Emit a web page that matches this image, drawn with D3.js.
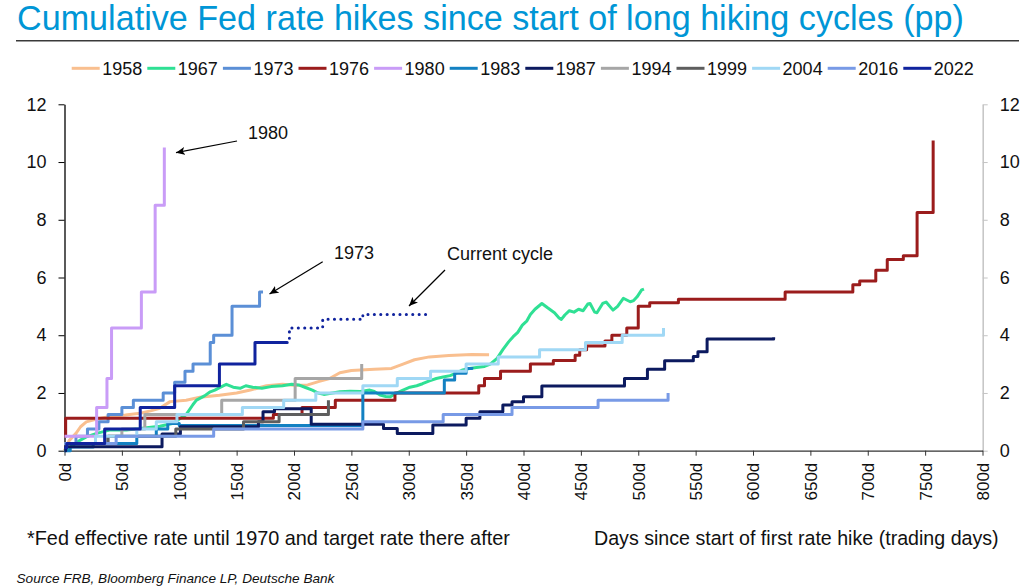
<!DOCTYPE html>
<html><head><meta charset="utf-8">
<script src="https://cdn.jsdelivr.net/npm/d3@7"></script>
<style>
body{margin:0;background:#fff;}
svg{display:block;font-family:"Liberation Sans",Arial,sans-serif;}
</style>
</head><body>
<svg id="chart" width="1034" height="588"></svg>
<script>
// ---------------- DATA ----------------
const years = ["1958","1967","1973","1976","1980","1983","1987","1994","1999","2004","2016","2022"];
const xTicks = [0,50,100,150,200,250,300,350,400,450,500,550,600,650,700,750,800];
const yTicks = [0,2,4,6,8,10,12];

const s1958 = [[0,0],[4,0.35],[10,0.6],[14,0.83],[19,1.0],[28,1.1],[42,1.2],[53,1.24],[66,1.3],[75,1.38],[83,1.47],[92,1.7],[106,1.75],[118,1.85],[135,1.92],[150,2.0],[162,2.1],[176,2.25],[190,2.3],[200,2.27],[212,2.28],[222,2.4],[231,2.5],[240,2.7],[250,2.78],[270,2.82],[285,2.85],[295,3.0],[305,3.15],[318,3.25],[335,3.3],[355,3.33],[370,3.32]];
const s1967 = [[0,0],[4,0.1],[8,0.2],[13,0.35],[19,0.48],[28,0.6],[40,0.72],[54,0.72],[66,0.77],[83,0.85],[95,0.95],[100,1.1],[106,1.25],[112,1.6],[115,1.75],[122,1.9],[127,2.04],[131,2.1],[136,2.2],[141,2.3],[147,2.2],[153,2.16],[158,2.25],[164,2.2],[172,2.16],[180,2.22],[190,2.25],[198,2.3],[204,2.28],[210,2.19],[216,2.1],[221,2.0],[226,1.95],[231,1.98],[240,2.04],[249,2.06],[258,2.05],[266,2.1],[270,2.05],[275,1.93],[280,1.88],[284,1.87],[289,1.99],[295,2.1],[301,2.2],[307,2.25],[312,2.32],[318,2.42],[324,2.5],[330,2.55],[336,2.6],[342,2.7],[347,2.8],[353,2.85],[359,2.88],[366,2.92],[371,3.0],[377,3.2],[382,3.5],[387,3.77],[391,3.95],[395,4.1],[399,4.35],[403,4.5],[406,4.72],[410,4.9],[416,5.1],[421,4.95],[427,4.78],[431,4.6],[433,4.55],[436,4.7],[440,4.85],[444,4.8],[448,4.9],[452,4.85],[456,5.08],[458,5.1],[462,4.8],[464,4.78],[469,5.1],[472,5.15],[478,4.87],[482,5.0],[487,5.28],[493,5.16],[496,5.2],[499,5.33],[503,5.57],[505,5.6]];
const s1973 = [[0,0.25],[10,0.5],[20,0.75],[30,1.0],[38,1.25],[50,1.5],[60,1.75],[86,2.0],[96,2.375],[105,2.75],[112,3.0],[127,3.75],[130,4.0],[146,5.0],[170,5.5],[173,5.5]];
const s1976 = [[0,0.5],[1,1.125],[182,1.25],[207,1.5],[236,1.75],[288,2.0],[361,2.25],[366,2.5],[380,2.75],[406,3.0],[426,3.125],[445,3.31],[449,3.5],[455,3.625],[471,3.8],[477,4.0],[490,4.25],[500,5.0],[510,5.125],[535,5.25],[628,5.5],[687,5.75],[693,5.875],[707,6.25],[717,6.625],[731,6.75],[743,8.25],[757,10.75]];
const s1980 = [[0,0.5],[28,1.5],[37,2.5],[41,4.25],[67,5.5],[79,8.5],[87,10.5]];
const s1983 = [[0,0],[5,0.125],[25,0.25],[63,0.5],[80,0.75],[90,0.94],[100,0.87],[260,2.0],[331,2.45],[340,2.68],[350,2.85],[355,2.9]];
const s1987 = [[0,0],[1,0.14],[85,0.58],[101,0.83],[169,1.0],[173,1.35],[183,1.45],[215,0.92],[278,0.77],[290,0.6],[321,0.89],[350,1.12],[362,1.35],[382,1.58],[390,1.7],[400,1.87],[416,2.24],[488,2.5],[508,2.82],[523,3.12],[548,3.26],[552,3.43],[560,3.87],[616,3.87],[618,3.93]];
const s1994 = [[0,0.25],[37,0.5],[50,0.75],[70,1.25],[137,1.75],[201,2.5],[259,3.0]];
const s1999 = [[0,0.25],[38,0.5],[97,0.75],[156,1.0],[187,1.25],[230,1.75]];
const s2004 = [[0,0.25],[27,0.5],[63,0.75],[80,1.0],[98,1.25],[155,1.5],[191,1.75],[219,2.0],[260,2.25],[290,2.5],[319,2.75],[350,3.0],[378,3.25],[414,3.5],[454,3.75],[486,4.0],[522,4.25]];
const s2016 = [[0,0.25],[45,0.5],[130,0.75],[260,1.0],[330,1.25],[390,1.5],[465,1.75],[526,2.0]];
const s2022 = [[0,0.1],[2,0.25],[35,0.75],[66,1.5],[96,2.25],[135,3.0],[166,3.75],[194,3.75]];
const s2022proj = [[194,3.75],[196,4.25],[225,4.55],[260,4.72],[317,4.75]];

const seriesList = [s1958,s1967,s1973,s1976,s1980,s1983,s1987,s1994,s1999,s2004,s2016,s2022];
const smoothYears = ["1958","1967"];

// ---------------- STYLE ----------------
const colors = {
  "1958":"#f9bf8f","1967":"#2fe094","1973":"#5b8fd6","1976":"#9b1c1c","1980":"#c99cf7",
  "1983":"#1381c2","1987":"#0c1a5f","1994":"#a6a6a6","1999":"#5e5e5e","2004":"#a0d8f5",
  "2016":"#789ae6","2022":"#10239e"
};

const svg = d3.select("#chart");
const x = d3.scaleLinear().domain([0,800]).range([64.5,982.5]);
const y = d3.scaleLinear().domain([0,12]).range([450.7,104.3]);

function fitText(sel, target){
  const w = sel.node().getComputedTextLength();
  const fs = parseFloat(sel.attr("font-size"));
  sel.attr("font-size", (fs*target/w).toFixed(2));
}

// title
const title = svg.append("text").attr("x",17).attr("y",30).attr("font-size",25)
  .attr("fill","#0096d6").text("Cumulative Fed rate hikes since start of long hiking cycles (pp)");
fitText(title, 947);
svg.append("line").attr("x1",16).attr("x2",1019).attr("y1",40.7).attr("y2",40.7)
  .attr("stroke","#3a3a3a").attr("stroke-width",1.6);

// legend
years.forEach((yr,i)=>{
  const x0 = 71.7 + i*75.6;
  svg.append("line").attr("x1",x0).attr("x2",x0+28).attr("y1",68.3).attr("y2",68.3)
    .attr("stroke",colors[yr]).attr("stroke-width",3);
  svg.append("text").attr("x",x0+30.5).attr("y",74.5).attr("font-size",18).attr("fill","#111").text(yr);
});

// axes
const gl = svg.append("g").attr("transform","translate(64.5,0)")
  .call(d3.axisLeft(y).tickValues(yTicks).tickSize(6).tickSizeOuter(0).tickPadding(12));
gl.select(".domain").attr("stroke","#000").attr("stroke-width",1.3);
gl.selectAll(".tick line").attr("stroke","#000");
gl.selectAll("text").attr("font-size",18).attr("fill","#111").attr("font-family","Liberation Sans, Arial, sans-serif");

const gr = svg.append("g").attr("transform","translate(982.7,0)")
  .call(d3.axisRight(y).tickValues(yTicks).tickSize(5).tickSizeOuter(0).tickPadding(12));
gr.select(".domain").attr("stroke","#c4c4c4").attr("stroke-width",1.5);
gr.selectAll(".tick line").attr("stroke","#c4c4c4");
gr.selectAll("text").attr("font-size",18).attr("fill","#111").attr("font-family","Liberation Sans, Arial, sans-serif");

const gb = svg.append("g").attr("transform","translate(0,450.7)")
  .call(d3.axisBottom(x).tickValues(xTicks).tickSize(5).tickSizeOuter(0).tickFormat(d=>d+"d"));
gb.select(".domain").attr("stroke","#333").attr("stroke-width",1.3);
gb.selectAll(".tick line").attr("stroke","#333");
gb.selectAll("text").attr("font-size",17).attr("fill","#111").attr("font-family","Liberation Sans, Arial, sans-serif")
  .attr("transform","rotate(-90)").attr("text-anchor","end").attr("x",-12).attr("y",0).attr("dy","0.35em");

// lines
const plot = svg.append("g");
years.forEach((yr,i)=>{
  const smooth = smoothYears.includes(yr);
  const line = d3.line().x(d=>x(d[0])).y(d=>y(d[1]))
    .curve(smooth ? d3.curveLinear : d3.curveStepAfter);
  plot.append("path").datum(seriesList[i]).attr("d",line)
    .attr("fill","none").attr("stroke",colors[yr]).attr("stroke-width",3)
    .attr("stroke-linejoin","round");
});
const projLine = d3.line().x(d=>x(d[0])).y(d=>y(d[1])).curve(d3.curveStepAfter);
plot.append("path").datum(s2022proj).attr("d",projLine)
  .attr("fill","none").attr("stroke",colors["2022"]).attr("stroke-width",3)
  .attr("stroke-linecap","round").attr("stroke-dasharray","0.1,6.3");

// annotations
const defs = svg.append("defs");
defs.append("marker").attr("id","arr").attr("viewBox","0 0 10 10").attr("refX",10).attr("refY",5)
  .attr("markerWidth",9).attr("markerHeight",9).attr("markerUnits","userSpaceOnUse").attr("orient","auto")
  .append("path").attr("d","M0,0.5 L10,5 L0,9.5 L2.5,5 z").attr("fill","#000");

const annots = [
  {t:"1980", tx:248, ty:139, x1:237, y1:141, x2:176, y2:152.7},
  {t:"1973", tx:334, ty:259, x1:322.7, y1:261.7, x2:269.5, y2:294},
  {t:"Current cycle", tx:447, ty:260, x1:445, y1:270, x2:409, y2:306}
];
annots.forEach(a=>{
  svg.append("text").attr("x",a.tx).attr("y",a.ty).attr("font-size",18).attr("fill","#111").text(a.t);
  svg.append("line").attr("x1",a.x1).attr("y1",a.y1).attr("x2",a.x2).attr("y2",a.y2)
    .attr("stroke","#000").attr("stroke-width",1.2).attr("marker-end","url(#arr)");
});

// footers
const f1 = svg.append("text").attr("x",27).attr("y",545).attr("font-size",17).attr("fill","#111")
  .text("*Fed effective rate until 1970 and target rate there after");
fitText(f1, 483);
const f2 = svg.append("text").attr("x",594).attr("y",545).attr("font-size",17).attr("fill","#111")
  .text("Days since start of first rate hike (trading days)");
fitText(f2, 405);
const f3 = svg.append("text").attr("x",16.5).attr("y",583).attr("font-size",13).attr("font-style","italic").attr("fill","#111")
  .text("Source FRB, Bloomberg Finance LP, Deutsche Bank");
fitText(f3, 318);
</script>
</body></html>
